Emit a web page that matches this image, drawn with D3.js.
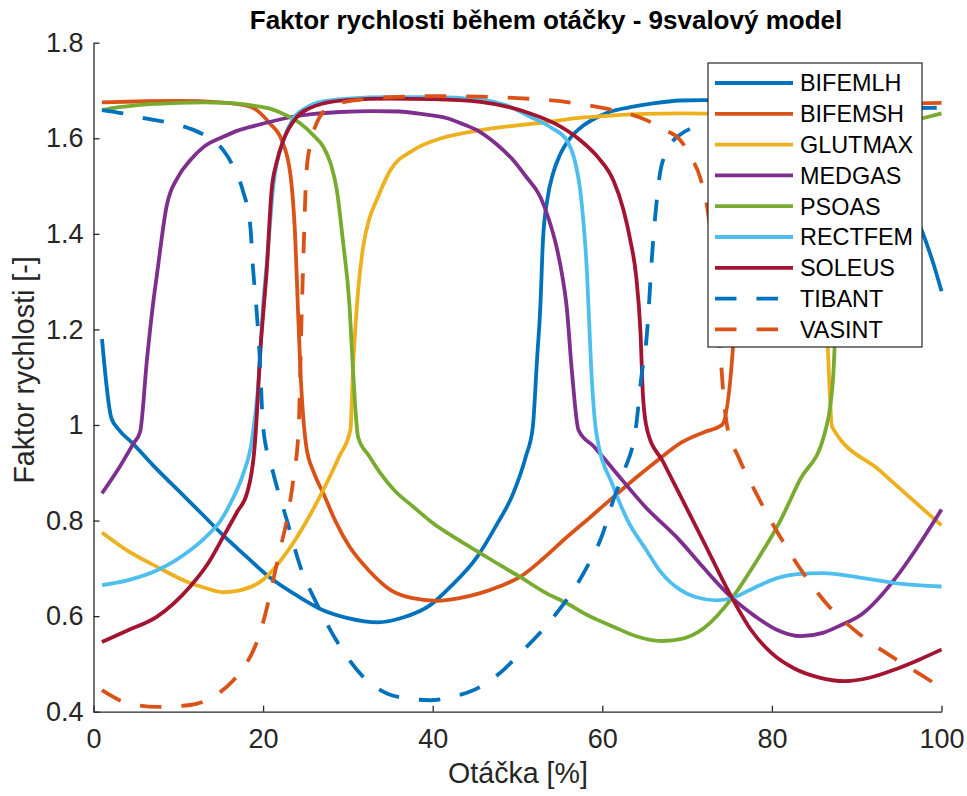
<!DOCTYPE html>
<html>
<head>
<meta charset="utf-8">
<script src="https://cdn.jsdelivr.net/npm/d3@7"></script>
<style>
  body { margin: 0; background: #fff; }
  svg { font-family: "Liberation Sans", Arial, Helvetica, sans-serif; }
</style>
</head>
<body>
<div id="chart-area"></div>
<script>
// Series names in legend order
const muscles = ['BIFEMLH', 'BIFEMSH', 'GLUTMAX', 'MEDGAS', 'PSOAS', 'RECTFEM', 'SOLEUS', 'TIBANT', 'VASINT'];

// [x (%), factor]
const bifemlh = [[1,1.18],[2.1,1.015],[3,0.99],[4.6,0.962],[7,0.916],[10,0.863],[13,0.81],[15,0.774],[18,0.725],[21,0.678],[24,0.643],[27,0.613],[30,0.596],[33.5,0.587],[36.5,0.597],[39.7,0.623],[42,0.66],[45.2,0.723],[47.5,0.79],[49.5,0.857],[51,0.935],[51.8,0.995],[52.3,1.136],[52.7,1.25],[53,1.386],[53.5,1.47],[54.2,1.527],[55,1.565],[56.2,1.6],[57.8,1.627],[59.4,1.644],[61,1.656],[63.3,1.665],[66,1.673],[69.2,1.679],[72,1.68],[76,1.675],[80,1.665],[84,1.645],[88,1.61],[92,1.56],[95,1.5],[97.5,1.415],[99,1.34],[100,1.28]];
const bifemsh = [[1,1.675],[5,1.677],[10,1.678],[15,1.675],[18.5,1.666],[20.8,1.631],[22.2,1.596],[23.2,1.527],[23.8,1.387],[24.1,1.247],[24.4,1.115],[25.1,0.954],[26,0.9],[27.1,0.857],[28.5,0.8],[30.2,0.745],[32.5,0.695],[35,0.655],[37.5,0.638],[40.5,0.632],[43,0.637],[45.6,0.648],[48,0.663],[50.3,0.682],[53,0.72],[55.8,0.765],[58.5,0.806],[61.3,0.849],[64,0.89],[66.8,0.93],[69.2,0.962],[72,0.985],[74.1,1.0],[75.4,1.16],[76,1.35],[77,1.5],[78.5,1.59],[80,1.63],[85,1.66],[90,1.668],[95,1.672],[100,1.674]];
const glutmax = [[1,0.775],[4,0.737],[7.5,0.703],[11,0.672],[13,0.66],[15.3,0.65],[17.5,0.655],[20,0.676],[22.4,0.724],[25,0.795],[27.1,0.864],[29,0.935],[30.3,0.99],[30.6,1.115],[31.2,1.28],[31.8,1.373],[32.5,1.43],[33.4,1.471],[35,1.533],[37.7,1.575],[41,1.6],[45.6,1.617],[50,1.627],[53.5,1.634],[57,1.642],[61.3,1.648],[65,1.651],[69.2,1.652],[75,1.65],[80,1.645],[83,1.62],[85,1.55],[86,1.4],[86.6,1.158],[87.1,0.996],[92.7,0.905],[100,0.79]];
const medgas = [[1,0.857],[3,0.91],[4.7,0.961],[5.5,0.986],[6.3,1.136],[7,1.25],[7.5,1.317],[8.6,1.456],[10,1.52],[11.4,1.554],[13,1.582],[15.3,1.603],[17,1.616],[19.2,1.627],[23.2,1.644],[26,1.651],[29.1,1.655],[33,1.657],[36,1.656],[39,1.65],[41.7,1.642],[43.5,1.63],[45.6,1.613],[47.5,1.588],[49.5,1.554],[51,1.52],[52.7,1.477],[53.7,1.43],[54.6,1.373],[55.3,1.31],[55.8,1.247],[56.4,1.115],[57.2,0.989],[59,0.955],[61.3,0.907],[65,0.83],[69.2,0.757],[72,0.7],[75.3,0.638],[78,0.6],[80.5,0.572],[83.4,0.558],[86,0.565],[88,0.58],[90.6,0.604],[94.6,0.68],[97,0.74],[100,0.823]];
const psoas = [[1,1.659],[3,1.665],[5,1.669],[7.5,1.672],[10,1.674],[13,1.675],[15.5,1.674],[17.3,1.672],[19,1.668],[20.8,1.662],[22.5,1.65],[24.4,1.631],[26,1.605],[27.1,1.582],[28,1.545],[28.7,1.491],[29.4,1.387],[30.2,1.247],[30.6,1.115],[31.2,0.975],[32.5,0.935],[33.8,0.9],[35.5,0.863],[37.7,0.829],[40,0.795],[43,0.76],[45.6,0.732],[48,0.706],[50.3,0.682],[53,0.652],[55.8,0.627],[58.5,0.6],[61.3,0.578],[64,0.558],[67,0.548],[69.5,0.553],[72,0.575],[75.3,0.638],[78,0.71],[81,0.8],[83.3,0.885],[86.1,0.975],[87.2,1.094],[87.6,1.25],[88.2,1.4],[89,1.5],[90,1.56],[92,1.605],[95,1.63],[98,1.643],[100,1.652]];
const rectfem = [[1,0.665],[4,0.675],[7.5,0.696],[11.4,0.738],[13.2,0.765],[15,0.8],[16.4,0.845],[17.6,0.895],[18.7,0.97],[19.5,1.1],[20,1.25],[20.5,1.35],[21.2,1.5],[22.4,1.596],[23.5,1.64],[25.1,1.664],[27,1.677],[30,1.683],[35,1.686],[40,1.686],[45.6,1.681],[48.5,1.67],[51.5,1.645],[54,1.622],[55.8,1.596],[56.8,1.55],[57.4,1.491],[58.2,1.317],[58.7,1.115],[59.3,0.983],[61.3,0.871],[63,0.8],[65.2,0.738],[67,0.69],[69.2,0.655],[71,0.64],[73.5,0.633],[75.3,0.638],[78,0.66],[80.7,0.68],[83,0.688],[86,0.69],[90.6,0.68],[95,0.668],[100,0.662]];
const soleus = [[1,0.546],[4,0.57],[7.5,0.599],[11.4,0.662],[13.5,0.71],[15.3,0.766],[17,0.82],[18.1,0.857],[19,0.954],[19.4,1.066],[19.6,1.136],[20,1.23],[20.4,1.317],[21,1.491],[21.6,1.55],[22.4,1.596],[24,1.645],[25.5,1.663],[27.1,1.673],[30,1.68],[35,1.683],[40,1.682],[45.6,1.676],[49,1.665],[51.5,1.652],[54.5,1.63],[57.4,1.596],[59.5,1.56],[61.3,1.512],[62.5,1.45],[63.3,1.387],[64,1.31],[64.5,1.195],[64.8,1.06],[65.3,0.989],[67.2,0.922],[69.2,0.852],[72,0.754],[75.3,0.638],[77.5,0.572],[80,0.522],[82.7,0.49],[85.5,0.472],[88.6,0.464],[91.5,0.471],[94.6,0.489],[97.5,0.51],[100,0.53]];
const tibant = [[1,1.659],[3.5,1.652],[6.3,1.641],[9,1.632],[11.4,1.62],[13.5,1.602],[15.3,1.575],[16.5,1.54],[17.6,1.491],[18.5,1.415],[18.8,1.331],[19.2,1.247],[19.6,1.143],[20,0.996],[21.2,0.899],[22.8,0.801],[24.4,0.703],[26.3,0.627],[29.1,0.536],[31.8,0.473],[34.6,0.438],[37,0.428],[39.7,0.424],[42.5,0.432],[45.6,0.452],[48,0.482],[50.3,0.522],[52.5,0.562],[54.6,0.606],[56.5,0.652],[58.2,0.703],[60,0.77],[61.3,0.843],[62.5,0.9],[64,1.0],[64.6,1.1],[65.2,1.178],[66,1.387],[66.8,1.526],[67.5,1.57],[68.4,1.596],[69.2,1.608],[71,1.625],[75,1.643],[80,1.654],[90,1.661],[100,1.664]];
const vasint = [[1,0.445],[4,0.418],[7.5,0.41],[11.4,0.414],[14,0.43],[16.5,0.466],[18,0.5],[19.2,0.543],[20.2,0.6],[21.2,0.676],[22,0.74],[22.8,0.801],[23.6,0.892],[24.2,0.996],[24.5,1.2],[24.8,1.38],[25.1,1.526],[25.6,1.59],[26.3,1.631],[27.9,1.666],[31,1.68],[35,1.686],[40,1.688],[45.6,1.687],[50,1.684],[53.5,1.68],[57,1.673],[60.5,1.662],[63,1.652],[65.2,1.638],[67,1.62],[69.2,1.596],[70.5,1.56],[71.6,1.514],[72.5,1.44],[73.3,1.3],[73.9,1.157],[74.3,1.06],[74.8,0.99],[76,0.935],[78,0.862],[80.7,0.774],[83.5,0.695],[86.6,0.623],[90.5,0.56],[94.6,0.51],[97.5,0.478],[100,0.45]];

const seriesData = [bifemlh, bifemsh, glutmax, medgas, psoas, rectfem, soleus, tibant, vasint];
const colors = ['#0072BD', '#D95319', '#EDB120', '#7E2F8E', '#77AC30', '#4DBEEE', '#A2142F', '#0072BD', '#D95319'];
const dashed = [false, false, false, false, false, false, false, true, true];

const xTicks = [0, 20, 40, 60, 80, 100];
const yTicks = [0.4, 0.6, 0.8, 1, 1.2, 1.4, 1.6, 1.8];

const svgWidth = 967, svgHeight = 796;
const axisColor = '#262626';
const dash = '21.5,20';

let svg = d3.select('#chart-area')
  .append('svg')
    .attr('width', svgWidth)
    .attr('height', svgHeight);

// Scales
let x = d3.scaleLinear().domain([0, 100]).range([93.5, 941.5]);
let y = d3.scaleLinear().domain([0.4, 1.8]).range([711.7, 42.7]);

// X Axis
let xAxisCall = d3.axisBottom(x)
  .tickValues(xTicks)
  .tickSizeInner(-6)
  .tickSizeOuter(0)
  .tickPadding(17)
  .tickFormat(d3.format('d'));
let xAxis = svg.append('g')
  .attr('transform', 'translate(0,' + y(0.4) + ')')
  .call(xAxisCall);

// Y Axis
let yAxisCall = d3.axisLeft(y)
  .tickValues(yTicks)
  .tickSizeInner(-6)
  .tickSizeOuter(0)
  .tickPadding(10)
  .tickFormat(d => String(+d.toFixed(1)));
let yAxis = svg.append('g')
  .attr('transform', 'translate(' + x(0) + ',0)')
  .call(yAxisCall);

[xAxis, yAxis].forEach(function(a) {
  a.select('.domain').attr('stroke', axisColor).attr('stroke-width', 1.3);
  a.selectAll('.tick line').attr('stroke', axisColor).attr('stroke-width', 1.3);
  a.selectAll('.tick text')
    .attr('fill', axisColor)
    .attr('font-size', '27px')
    .attr('font-family', '"Liberation Sans", Arial, sans-serif');
});

// Lines
let line = d3.line()
  .x(d => x(d[0]))
  .y(d => y(d[1]))
  .curve(d3.curveMonotoneX);

seriesData.forEach(function(data, i) {
  svg.append('path')
    .datum(data)
    .attr('fill', 'none')
    .attr('stroke', colors[i])
    .attr('stroke-width', 3.8)
    .attr('stroke-linejoin', 'round')
    .attr('stroke-dasharray', dashed[i] ? dash : null)
    .attr('d', line);
});

// Labels
svg.append('text')
  .attr('x', 546)
  .attr('y', 29)
  .attr('text-anchor', 'middle')
  .attr('font-size', '26px')
  .attr('font-weight', 'bold')
  .attr('fill', '#000')
  .text('Faktor rychlosti během otáčky - 9svalový model');

svg.append('text')
  .attr('x', 518)
  .attr('y', 783)
  .attr('text-anchor', 'middle')
  .attr('font-size', '28.6px')
  .attr('fill', axisColor)
  .text('Otáčka [%]');

svg.append('text')
  .attr('transform', 'translate(33.5,370) rotate(-90)')
  .attr('text-anchor', 'middle')
  .attr('font-size', '28.6px')
  .attr('fill', axisColor)
  .text('Faktor rychlosti [-]');

// Legend
let legend = svg.append('g');
legend.append('rect')
  .attr('x', 708)
  .attr('y', 63)
  .attr('width', 214)
  .attr('height', 284)
  .attr('fill', '#fff')
  .attr('stroke', axisColor)
  .attr('stroke-width', 1.2);

muscles.forEach(function(name, i) {
  let rowY = 83 + i * 30.8;
  legend.append('line')
    .attr('x1', 715)
    .attr('x2', 793)
    .attr('y1', rowY)
    .attr('y2', rowY)
    .attr('stroke', colors[i])
    .attr('stroke-width', 3.8)
    .attr('stroke-dasharray', dashed[i] ? dash : null);
  legend.append('text')
    .attr('x', 800)
    .attr('y', rowY)
    .attr('dy', '0.36em')
    .attr('font-size', '23.4px')
    .attr('fill', '#000')
    .text(name);
});
</script>
</body>
</html>
